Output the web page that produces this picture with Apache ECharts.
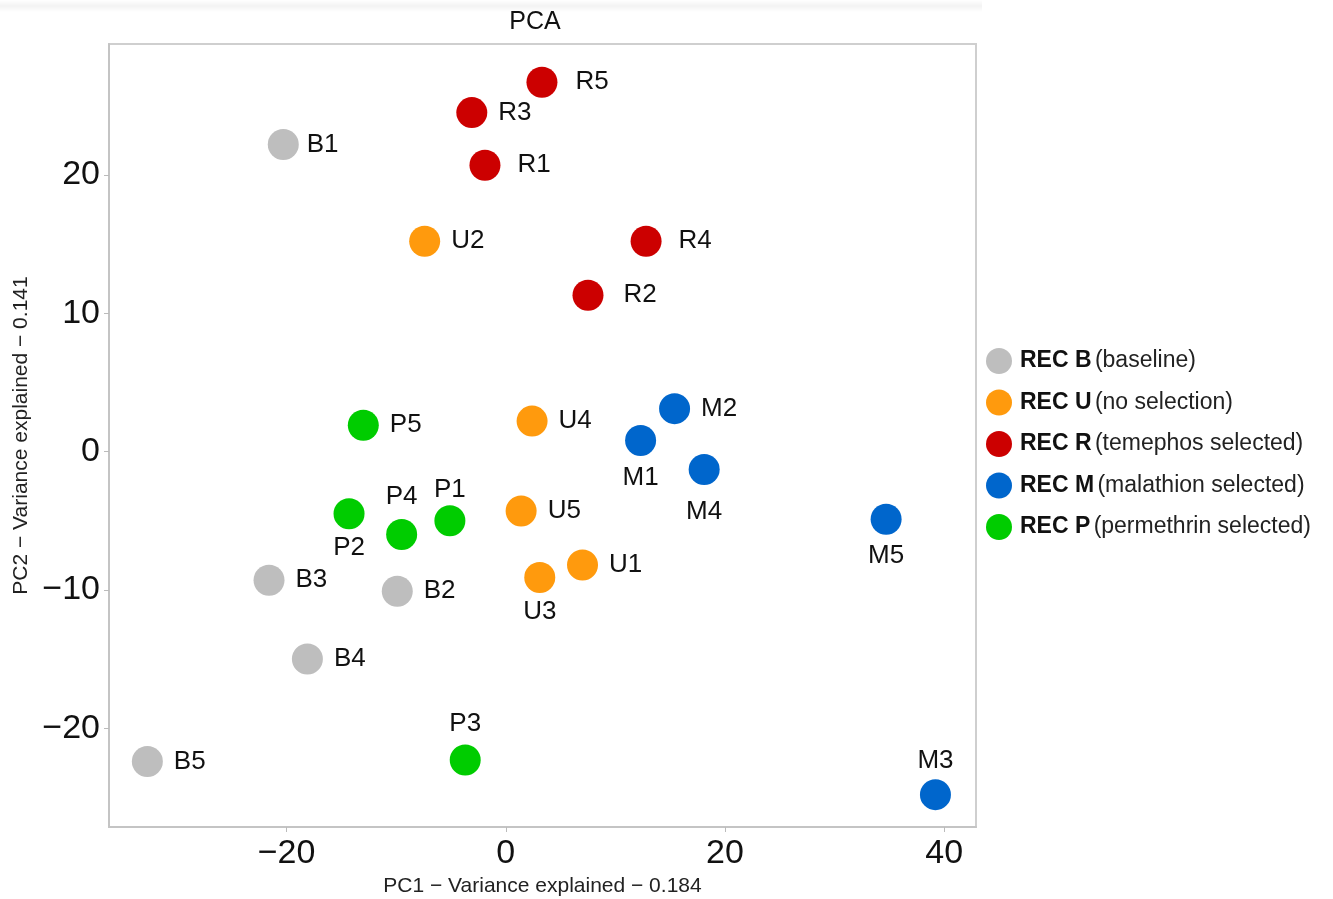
<!DOCTYPE html>
<html>
<head>
<meta charset="utf-8">
<title>PCA</title>
<script src="https://cdn.jsdelivr.net/npm/echarts@6/dist/echarts.min.js"></script>
<style>
  html, body { margin: 0; padding: 0; background: #fff; }
  #main { width: 1333px; height: 899px; }
</style>
</head>
<body>
<div id="main"></div>
<script>
// 分组
const groupNames = ['REC B', 'REC U', 'REC R', 'REC M', 'REC P'];
const groupDesc = ['baseline', 'no selection', 'temephos selected', 'malathion selected', 'permethrin selected'];
const groupColors = ['#bebebe', '#ff9a0d', '#cc0000', '#0066cc', '#00cc00'];

// 样本 (PC1, PC2)
const bNames = ['B1', 'B2', 'B3', 'B4', 'B5'];
const bPC1 = [-20.3, -9.9, -21.6, -18.1, -32.7];
const bPC2 = [22.2, -10.1, -9.3, -15.0, -22.4];

const uNames = ['U1', 'U2', 'U3', 'U4', 'U5'];
const uPC1 = [7.0, -7.4, 3.1, 2.4, 1.4];
const uPC2 = [-8.2, 15.2, -9.1, 2.2, -4.3];

const rNames = ['R1', 'R2', 'R3', 'R4', 'R5'];
const rPC1 = [-1.9, 7.5, -3.1, 12.8, 3.3];
const rPC2 = [20.7, 11.3, 24.5, 15.2, 26.7];

const mNames = ['M1', 'M2', 'M3', 'M4', 'M5'];
const mPC1 = [12.3, 15.4, 39.2, 18.1, 34.7];
const mPC2 = [0.8, 3.1, -24.8, -1.3, -4.9];

const pNames = ['P1', 'P2', 'P3', 'P4', 'P5'];
const pPC1 = [-5.1, -14.3, -3.7, -9.5, -13.0];
const pPC2 = [-5.0, -4.5, -22.3, -6.0, 1.9];

const xTicks = [-20, 0, 20, 40];
const yTicks = [-20, -10, 0, 10, 20];

// 标签位置 (默认在右侧)
const labelPlace = {
  M1: ['bottom', 6], M4: ['bottom', 11], M5: ['bottom', 5], U3: ['bottom', 3], P2: ['bottom', 3],
  M3: ['top', 5], P3: ['top', 8], P1: ['top', 2], P4: ['top', 9],
  R1: ['right', 17], R2: ['right', 20], R4: ['right', 17], R5: ['right', 18], B1: ['right', 8]
};

const groups = [
  [bNames, bPC1, bPC2],
  [uNames, uPC1, uPC2],
  [rNames, rPC1, rPC2],
  [mNames, mPC1, mPC2],
  [pNames, pPC1, pPC2]
];

const series = groups.map(function (g, i) {
  return {
    name: groupNames[i],
    type: 'scatter',
    symbolSize: 31,
    itemStyle: { color: groupColors[i], opacity: 1 },
    data: g[0].map(function (n, k) {
      const lp = labelPlace[n] || ['right', 11];
      return {
        value: [g[1][k], g[2][k]],
        name: n,
        label: { position: lp[0], distance: lp[1] }
      };
    }),
    label: {
      show: true,
      formatter: '{b}',
      color: '#111',
      fontSize: 26,
      padding: [3, 0, 0, 0],
      fontFamily: 'Liberation Sans'
    },
    emphasis: { disabled: true }
  };
});

const chart = echarts.init(document.getElementById('main'));
chart.setOption({
  backgroundColor: '#fff',
  animation: false,
  textStyle: { fontFamily: 'Liberation Sans' },
  title: {
    text: 'PCA',
    left: 530,
    textAlign: 'center',
    top: 5,
    textStyle: { fontSize: 25, fontWeight: 'normal', color: '#111' }
  },
  graphic: [{
    type: 'rect',
    shape: { x: 0, y: 0, width: 982, height: 12 },
    style: {
      fill: new echarts.graphic.LinearGradient(0, 0, 0, 1, [
        { offset: 0, color: '#ffffff' },
        { offset: 0.5, color: '#f3f3f3' },
        { offset: 1, color: '#ffffff' }
      ])
    },
    silent: true,
    z: -1
  }],
  grid: {
    left: 109, right: 357, top: 44, bottom: 72,
    outerBoundsMode: 'none',
    containLabel: false,
    show: true,
    borderColor: '#cfcfcf',
    borderWidth: 2
  },
  legend: {
    orient: 'vertical',
    left: 981,
    top: 343,
    icon: 'circle',
    itemWidth: 26,
    itemHeight: 26,
    itemGap: 15.5,
    data: groupNames,
    formatter: function (name) {
      return '{b|' + name + '} {n|(' + groupDesc[groupNames.indexOf(name)] + ')}';
    },
    textStyle: {
      color: '#111',
      rich: {
        b: { fontWeight: 'bold', fontSize: 23, color: '#111', padding: [0, 0, 0, 3] },
        n: { fontSize: 23, color: '#222' }
      }
    }
  },
  xAxis: {
    type: 'value',
    min: -36.2,
    max: 42.9,
    name: 'PC1 \u2212 Variance explained \u2212 0.184',
    nameLocation: 'middle',
    nameGap: 46,
    nameTextStyle: { fontSize: 21, color: '#222' },
    axisLine: { show: true, onZero: false, lineStyle: { color: '#c4c4c4', width: 2 } },
    axisTick: { show: true, length: 5, customValues: xTicks, lineStyle: { color: '#bbb' } },
    axisLabel: {
      customValues: xTicks,
      fontSize: 34,
      color: '#111',
      margin: 10,
      formatter: function (v) { return String(v).replace('-', '\u2212'); }
    },
    splitLine: { show: false }
  },
  yAxis: {
    type: 'value',
    min: -27.14,
    max: 29.46,
    name: 'PC2 \u2212 Variance explained \u2212 0.141',
    nameLocation: 'middle',
    nameGap: 75,
    nameTextStyle: { fontSize: 21, color: '#222' },
    axisLine: { show: true, onZero: false, lineStyle: { color: '#c4c4c4', width: 2 } },
    axisTick: { show: true, length: 5, customValues: yTicks, lineStyle: { color: '#bbb' } },
    axisLabel: {
      customValues: yTicks,
      fontSize: 34,
      color: '#111',
      margin: 9,
      padding: [10, 0, 0, 0],
      formatter: function (v) { return String(v).replace('-', '\u2212'); }
    },
    splitLine: { show: false }
  },
  series: series
});
</script>
</body>
</html>
